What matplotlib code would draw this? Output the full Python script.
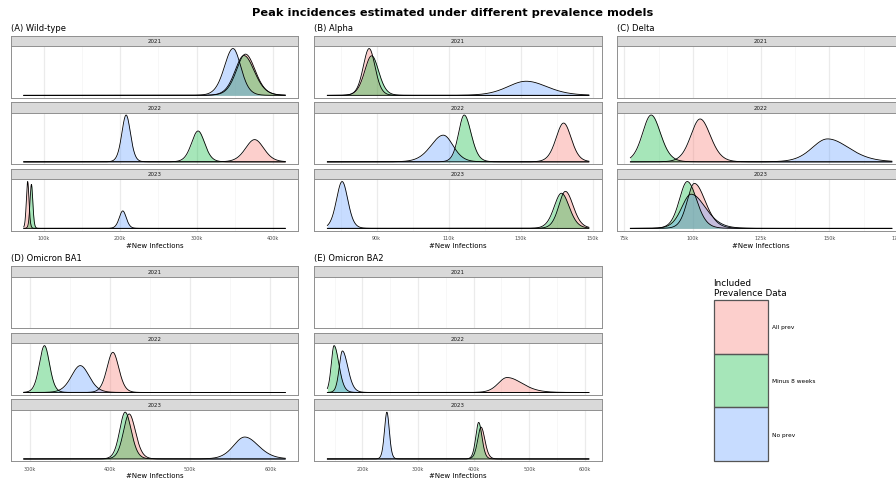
import numpy as np
import matplotlib
matplotlib.use("Agg")
import matplotlib.pyplot as plt
from matplotlib.ticker import FixedLocator, FuncFormatter

### data (peak incidences in thousands of new infections)
years = ["2021", "2022", "2023"]
models = ["All prev", "Minus 8 weeks", "No prev"]
model_colors = ["#F8766D", "#00BA38", "#619CFF"]

# per year -> per model (All prev, Minus 8 weeks, No prev)
# peak location, spread on the left side, spread on the right side
wt_peak = [[364, 362, 347.7], [376, 302, 207.9], [79.1, 84, 203.5]]
wt_sd_lo = [[12.1, 12.1, 11.6], [12.2, 8.8, 5.8], [1.75, 1.86, 4.7]]
wt_sd_hi = [[13.0, 13.9, 10.5], [12.2, 8.8, 5.8], [1.75, 1.86, 4.7]]
wt_range = [74, 416]
wt_ticks = [100, 200, 300, 400]

alpha_peak = [[87.9, 88.6, 131.5], [141.9, 114.3, 108.5], [142.4, 141.3, 80.4]]
alpha_sd_lo = [[1.69, 2.0, 5.27], [2.16, 1.62, 3.51], [1.89, 2.09, 1.62]]
alpha_sd_hi = [[1.69, 2.0, 5.94], [2.16, 1.96, 2.77], [2.21, 2.23, 1.62]]
alpha_range = [76.3, 148.9]
alpha_ticks = [90, 110, 130, 150]

delta_peak = [None, [102.7, 84.8, 149.3], [100.6, 98, 99.4]]
delta_sd_lo = [None, [3.51, 3.24, 5.8], [2.7, 2.97, 3.51]]
delta_sd_hi = [None, [3.86, 3.51, 7.97], [4.05, 3.51, 5.37]]
delta_range = [77.2, 172.8]
delta_ticks = [75, 100, 125, 150, 175]

ba1_peak = [None, [403.6, 318.3, 363], [423.9, 418.9, 568]]
ba1_sd_lo = [None, [7.56, 6.48, 11.3], [7.3, 7.0, 14.2]]
ba1_sd_hi = [None, [7.56, 6.48, 11.3], [8.1, 7.8, 17.4]]
ba1_range = [292.5, 618.5]
ba1_ticks = [300, 400, 500, 600]

ba2_peak = [None, [460, 149, 164], [413.3, 409, 244]]
ba2_sd_lo = [None, [16.2, 5.1, 5.8], [6.2, 5.4, 4.45]]
ba2_sd_hi = [None, [27.7, 8.9, 10.0], [6.9, 6.0, 4.45]]
ba2_range = [137, 607]
ba2_ticks = [200, 300, 400, 500, 600]

### layout (pixels)
W, H = 896, 481
PW = 287.6
STRIP_H = 10.5
PANEL_H = 51.5
UNIT = 66.5
NU = 12  # tail weight of the density shape

fig = plt.figure(figsize=(W / 100, H / 100), dpi=100)


def box(x0, y0, w, h):
    return [x0 / W, 1 - (y0 + h) / H, w / W, h / H]


def split_density(x, m, s1, s2):
    s = np.where(x < m, s1, s2)
    z = (x - m) / s
    return (1 + z ** 2 / NU) ** (-(NU + 1) / 2) / (s1 + s2)


def draw_variant(title, peaks, sd_lo, sd_hi, xrange, ticks, left, top):
    fig.text(left / W, 1 - (top - 8.3) / H, title, fontsize=6, va="center", ha="left")
    x = np.linspace(xrange[0], xrange[1], 800) * 1000
    span = x[-1] - x[0]
    step = (ticks[1] - ticks[0]) * 1000
    majors = np.array(ticks) * 1000
    minors = np.concatenate([[majors[0] - step / 2], majors + step / 2])
    for r, yr in enumerate(years):
        y0 = top + r * UNIT
        sax = fig.add_axes(box(left, y0, PW, STRIP_H))
        sax.set_facecolor("#D9D9D9")
        sax.set_xticks([])
        sax.set_yticks([])
        for sp in sax.spines.values():
            sp.set_color("#8f8f8f")
            sp.set_linewidth(0.7)
        sax.text(0.5, 0.5, yr, fontsize=4, color="#1A1A1A", ha="center", va="center",
                 transform=sax.transAxes)

        ax = fig.add_axes(box(left, y0 + STRIP_H, PW, PANEL_H))
        ax.set_xlim(x[0] - 0.05 * span, x[-1] + 0.05 * span)
        ax.xaxis.set_major_locator(FixedLocator(majors))
        ax.xaxis.set_minor_locator(FixedLocator(minors))
        ax.grid(which="major", axis="x", color="#EBEBEB", lw=0.9)
        ax.grid(which="minor", axis="x", color="#F4F4F4", lw=0.5)
        ax.set_axisbelow(True)
        ax.set_yticks([])
        for sp in ax.spines.values():
            sp.set_color("#8f8f8f")
            sp.set_linewidth(0.7)
        ax.tick_params(axis="x", which="both", length=0)

        if peaks[r] is not None:
            ymax = 0
            for m, a, b, c in zip(peaks[r], sd_lo[r], sd_hi[r], model_colors):
                d = split_density(x, m * 1000, a * 1000, b * 1000)
                ax.fill_between(x, d, color=c, alpha=0.35, lw=0)
                ax.plot(x, d, color="black", lw=0.6)
                ymax = max(ymax, d.max())
            ax.set_ylim(-0.05 * ymax, 1.05 * ymax)
        else:
            ax.set_ylim(0, 1)

        if r == len(years) - 1:
            ax.xaxis.set_major_formatter(FuncFormatter(lambda v, p: f"{v / 1000:.0f}k"))
            ax.tick_params(axis="x", labelsize=3.5, labelcolor="#4D4D4D", pad=3.3)
            bottom = y0 + STRIP_H + PANEL_H
            fig.text((left + PW / 2) / W, 1 - (bottom + 14) / H, "#New Infections",
                     fontsize=5, ha="center", va="center")
        else:
            ax.set_xticklabels([])


fig.text(453 / W, 1 - 12.7 / H, "Peak incidences estimated under different prevalence models",
         fontsize=8.2, fontweight="bold", ha="center", va="center")

draw_variant("(A) Wild-type", wt_peak, wt_sd_lo, wt_sd_hi, wt_range, wt_ticks, 10.7, 36.7)
draw_variant("(B) Alpha", alpha_peak, alpha_sd_lo, alpha_sd_hi, alpha_range, alpha_ticks, 314.3, 36.7)
draw_variant("(C) Delta", delta_peak, delta_sd_lo, delta_sd_hi, delta_range, delta_ticks, 617.3, 36.7)
draw_variant("(D) Omicron BA1", ba1_peak, ba1_sd_lo, ba1_sd_hi, ba1_range, ba1_ticks, 10.7, 267.3)
draw_variant("(E) Omicron BA2", ba2_peak, ba2_sd_lo, ba2_sd_hi, ba2_range, ba2_ticks, 314.3, 267.3)

# legend
fig.text(713.5 / W, 1 - 288.5 / H, "Included\nPrevalence Data", fontsize=6.4,
         ha="left", va="center", linespacing=1.05)
lax = fig.add_axes(box(713.5, 301, 54, 161))
lax.set_xlim(0, 1)
lax.set_ylim(len(models), 0)
lax.axis("off")
lax.bar([0.5] * len(models), 1, width=1, bottom=range(len(models)),
        color=model_colors, alpha=0.35, edgecolor="none", clip_on=False)
lax.bar([0.5] * len(models), 1, width=1, bottom=range(len(models)),
        fill=False, edgecolor="#555555", lw=0.9, clip_on=False)
for i, m in enumerate(models):
    lax.text(1.08, i + 0.5, m, fontsize=4.2, va="center", ha="left")

fig.savefig("out.png", dpi=100)
